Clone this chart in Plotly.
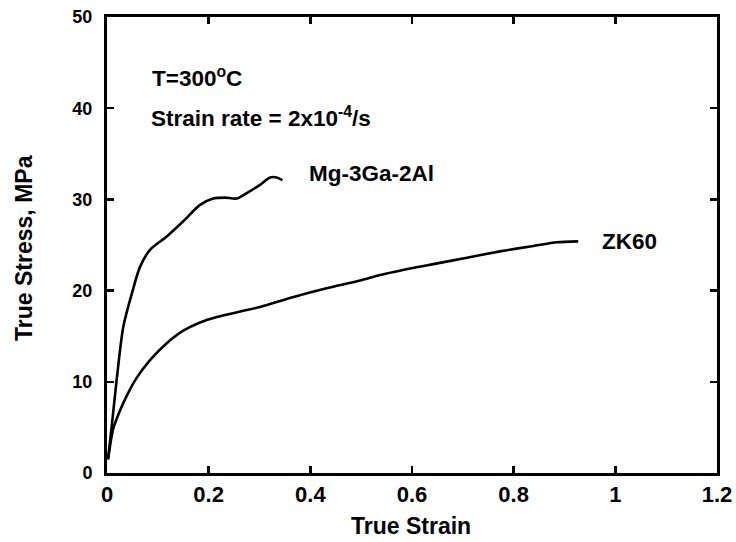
import plotly.graph_objects as go

# Mg-3Ga-2Al curve (true strain, true stress MPa)
mg_strain = [0.002, 0.010, 0.019, 0.032, 0.049, 0.065, 0.085, 0.117, 0.150, 0.183, 0.209,
             0.232, 0.255, 0.275, 0.301, 0.321, 0.334, 0.345]
mg_stress = [1.5, 5.5, 10.2, 16.0, 19.7, 22.6, 24.5, 25.9, 27.6, 29.4, 30.1,
             30.2, 30.1, 30.7, 31.6, 32.4, 32.4, 32.1]

# ZK60 curve
zk_strain = [0.002, 0.012, 0.026, 0.040, 0.058, 0.085, 0.117, 0.150, 0.183, 0.216, 0.262,
             0.301, 0.367, 0.432, 0.498, 0.537, 0.609, 0.642, 0.708, 0.773, 0.839, 0.885, 0.927]
zk_stress = [1.5, 4.8, 6.9, 8.6, 10.4, 12.4, 14.2, 15.6, 16.5, 17.1, 17.7,
             18.2, 19.3, 20.25, 21.1, 21.7, 22.55, 22.9, 23.6, 24.3, 24.9, 25.3, 25.4]

x_ticks = [0, 0.2, 0.4, 0.6, 0.8, 1, 1.2]
x_tick_labels = ["0", "0.2", "0.4", "0.6", "0.8", "1", "1.2"]
y_ticks = [0, 10, 20, 30, 40, 50]
y_tick_labels = ["0", "10", "20", "30", "40", "50"]

FONT = "Liberation Sans, Arial, Helvetica, sans-serif"

fig = go.Figure()
fig.add_trace(go.Scatter(x=mg_strain, y=mg_stress, mode="lines",
                         line=dict(color="black", width=2.6, shape="spline", smoothing=0.8),
                         showlegend=False, name="Mg-3Ga-2Al"))
fig.add_trace(go.Scatter(x=zk_strain, y=zk_stress, mode="lines",
                         line=dict(color="black", width=2.6, shape="spline", smoothing=0.6),
                         showlegend=False, name="ZK60"))

ann_font = dict(family=FONT, size=22.5, color="black", weight="bold")
fig.add_annotation(x=0.0846, y=43.4, xref="x", yref="y", text="T=300<sup>o</sup>C",
                   showarrow=False, xanchor="left", yanchor="middle", font=ann_font)
fig.add_annotation(x=0.082, y=39.0, xref="x", yref="y",
                   text="Strain rate = 2x10<sup>-4</sup>/s",
                   showarrow=False, xanchor="left", yanchor="middle", font=ann_font)
fig.add_annotation(x=0.393, y=32.8, xref="x", yref="y", text="Mg-3Ga-2Al",
                   showarrow=False, xanchor="left", yanchor="middle", font=ann_font)
fig.add_annotation(x=0.970, y=25.4, xref="x", yref="y", text="ZK60",
                   showarrow=False, xanchor="left", yanchor="middle", font=ann_font)

title_font = dict(family=FONT, size=23, color="black", weight="bold")
fig.add_annotation(x=0.498, y=-0.116, xref="paper", yref="paper", text="True Strain",
                   showarrow=False, xanchor="center", yanchor="middle", font=title_font)
fig.add_annotation(x=-0.137, y=0.4945, xref="paper", yref="paper", text="True Stress, MPa",
                   showarrow=False, xanchor="center", yanchor="middle", textangle=-90,
                   font=title_font)

fig.update_xaxes(range=[0, 1.2], tickvals=x_ticks, ticktext=x_tick_labels,
                 ticks="inside", ticklen=7, tickwidth=2.5, tickcolor="black",
                 showline=True, linewidth=3, linecolor="black", mirror="ticks",
                 showgrid=False, zeroline=False, automargin=False,
                 ticklabeloverflow="allow",
                 tickfont=dict(family=FONT, size=22, color="black", weight="bold"))
fig.update_yaxes(range=[0, 50], tickvals=y_ticks, ticktext=y_tick_labels,
                 ticks="inside", ticklen=7, tickwidth=2.5, tickcolor="black",
                 showline=True, linewidth=3, linecolor="black", mirror="ticks",
                 showgrid=False, zeroline=False, automargin=False,
                 ticklabeloverflow="allow", ticklabelstandoff=8,
                 tickfont=dict(family=FONT, size=18, color="black", weight="bold"))

fig.update_layout(width=736, height=542,
                  margin=dict(l=107, r=19, t=17, b=69),
                  paper_bgcolor="white", plot_bgcolor="white",
                  hovermode=False)

# remove the default page margin so the figure fills the window exactly
fig.write_html("out.html",
               config={"displayModeBar": False, "staticPlot": True},
               post_script="document.body.style.margin='0';document.body.style.overflow='hidden';")
